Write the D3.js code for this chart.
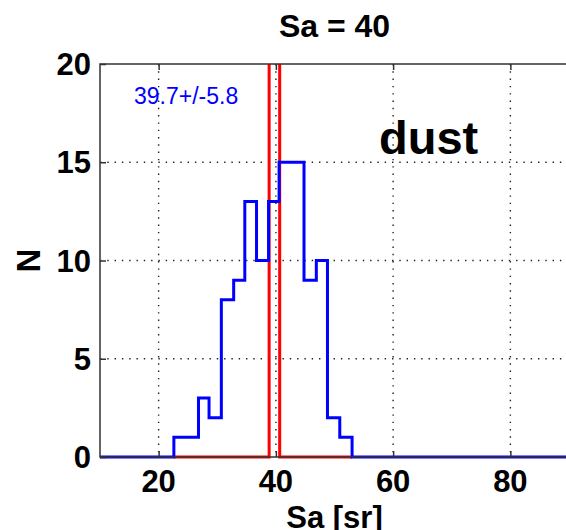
<!DOCTYPE html>
<html>
<head>
<meta charset="utf-8">
<script src="https://cdnjs.cloudflare.com/ajax/libs/d3/7.8.5/d3.min.js"></script>
<style>
body {margin:0; background:white; overflow:hidden;}
text {font-family: "Liberation Sans", Arial, Helvetica, sans-serif;}
</style>
</head>
<body>
<svg></svg>
<script>
var screen = {width:566,height:530}
var margins = {top:64,right:-3,left:100,bottom:73}

// retrieved Sa histogram (blue stairs)
var binEdges = [10, 22.6, 24.7, 26.8, 28.6, 30.7, 32.8, 34.7, 36.7, 38.75, 40.55, 42.7, 44.8, 46.9, 48.8, 50.9, 53.0, 90]
var binCounts = [0, 1, 1, 3, 2, 8, 9, 13, 10, 13, 15, 15, 9, 10, 2, 1, 0]

// true Sa (red stairs, goes off the top)
var trueEdges = [22.6, 38.85, 40.65, 53.0]
var trueCounts = [0, 112, 0]

var xTicks = [20, 40, 60, 80]
var yTicks = [0, 5, 10, 15, 20]
var xDomain = [10, 90]
var yDomain = [0, 20]

var titleText = "Sa = 40"
var statText = "39.7+/-5.8"
var typeText = "dust"
var xLabel = "Sa [sr]"
var yLabel = "N"

var plotW = screen.width - margins.left - margins.right
var plotH = screen.height - margins.top - margins.bottom

var xScale = d3.scaleLinear().domain(xDomain).range([margins.left, margins.left + plotW])
var yScale = d3.scaleLinear().domain(yDomain).range([margins.top + plotH, margins.top])

// turn edges + counts into step points
var stairs = function(edges, counts)
{
    var pts = []
    for (var i = 0; i < counts.length; i++)
        {
            pts.push([edges[i], counts[i]])
        }
    pts.push([edges[edges.length-1], counts[counts.length-1]])
    return pts
}

var line = d3.line()
    .x(function(d){ return xScale(d[0]) })
    .y(function(d){ return yScale(d[1]) })
    .curve(d3.curveStepAfter)

var svg = d3.select("svg")
    .attr("width", screen.width)
    .attr("height", screen.height)

svg.append("defs").append("clipPath").attr("id", "plotclip")
    .append("rect")
    .attr("x", margins.left)
    .attr("y", margins.top)
    .attr("width", plotW)
    .attr("height", plotH + 2)

// dotted grid
var grid = svg.append("g")
grid.selectAll("line.gx")
    .data(xTicks)
    .enter()
    .append("line")
    .attr("x1", function(d){ return xScale(d) })
    .attr("x2", function(d){ return xScale(d) })
    .attr("y1", margins.top)
    .attr("y2", margins.top + plotH)
    .style("stroke", "#222")
    .style("stroke-width", 1.4)
    .style("stroke-dasharray", "1.4,5.9")

grid.selectAll("line.gy")
    .data(yTicks.slice(1, -1))
    .enter()
    .append("line")
    .attr("y1", function(d){ return yScale(d) })
    .attr("y2", function(d){ return yScale(d) })
    .attr("x1", margins.left)
    .attr("x2", margins.left + plotW)
    .style("stroke", "#222")
    .style("stroke-width", 1.4)
    .style("stroke-dasharray", "1.4,5.9")

var plot = svg.append("g").attr("clip-path", "url(#plotclip)")

plot.append("path")
    .attr("d", line(stairs(trueEdges, trueCounts)))
    .style("fill", "none")
    .style("stroke", "#ff0000")
    .style("stroke-width", 3)

plot.append("path")
    .attr("d", line(stairs(binEdges, binCounts)))
    .style("fill", "none")
    .style("stroke", "#0000ff")
    .style("stroke-width", 3)

// axes box with inward ticks
var xAxisB = d3.axisBottom(xScale).tickValues(xTicks).tickSize(-6).tickFormat("")
var xAxisT = d3.axisTop(xScale).tickValues(xTicks).tickSize(-6).tickFormat("")
var yAxisL = d3.axisLeft(yScale).tickValues(yTicks).tickSize(-6).tickFormat("")

var styleAxis = function(g)
{
    g.select(".domain").remove()
    g.selectAll(".tick line").style("stroke", "#333").style("stroke-width", 1.5)
}

svg.append("g").attr("transform", "translate(0," + (margins.top + plotH) + ")").call(xAxisB).call(styleAxis)
svg.append("g").attr("transform", "translate(0," + margins.top + ")").call(xAxisT).call(styleAxis)
svg.append("g").attr("transform", "translate(" + margins.left + ",0)").call(yAxisL).call(styleAxis)

svg.append("rect")
    .attr("x", margins.left)
    .attr("y", margins.top)
    .attr("width", plotW)
    .attr("height", plotH)
    .style("fill", "none")
    .style("stroke", "#333")
    .style("stroke-width", 1.5)

// tick labels
svg.selectAll("text.xt")
    .data(xTicks)
    .enter()
    .append("text")
    .attr("x", function(d){ return xScale(d) })
    .attr("y", margins.top + plotH + 35)
    .attr("text-anchor", "middle")
    .style("font-size", "31px")
    .style("font-weight", "bold")
    .text(function(d){ return d })

svg.selectAll("text.yt")
    .data(yTicks)
    .enter()
    .append("text")
    .attr("x", margins.left - 9)
    .attr("y", function(d){ return yScale(d) + 11 })
    .attr("text-anchor", "end")
    .style("font-size", "31px")
    .style("font-weight", "bold")
    .text(function(d){ return d })

var midX = margins.left + plotW / 2

svg.append("text")
    .attr("x", midX)
    .attr("y", 37)
    .attr("text-anchor", "middle")
    .style("font-size", "32px")
    .style("font-weight", "bold")
    .text(titleText)

svg.append("text")
    .attr("x", midX)
    .attr("y", 528)
    .attr("text-anchor", "middle")
    .style("font-size", "31px")
    .style("font-weight", "bold")
    .text(xLabel)

svg.append("text")
    .attr("transform", "translate(40," + yScale(10) + ") rotate(-90)")
    .attr("text-anchor", "middle")
    .style("font-size", "33px")
    .style("font-weight", "bold")
    .text(yLabel)

svg.append("text")
    .attr("x", 134)
    .attr("y", 104)
    .style("font-size", "23px")
    .style("fill", "#0000ff")
    .text(statText)

svg.append("text")
    .attr("x", 379)
    .attr("y", 154)
    .style("font-size", "47px")
    .style("font-weight", "bold")
    .text(typeText)
</script>
</body>
</html>
